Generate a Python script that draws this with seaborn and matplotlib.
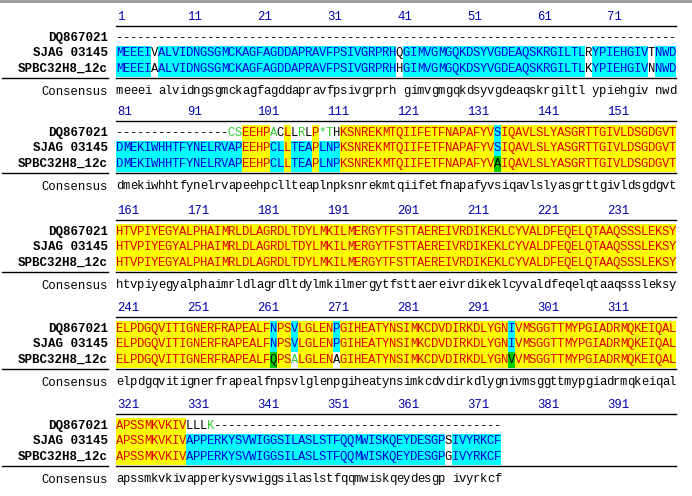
import matplotlib
matplotlib.use("Agg")
import matplotlib.pyplot as plt
from matplotlib.colors import ListedColormap
import numpy as np
import seaborn as sns

names = ["DQ867021", "SJAG 03145", "SPBC32H8_12c"]
starts = [1, 81, 161, 241, 321]

dq = [
    "-" * 80,
    "-" * 16 + "CSEEHPACLLRLP*THKSNREKMTQIIFETFNAPAFYVSIQAVLSLYASGRTTGIVLDSGDGVT",
    "HTVPIYEGYALPHAIMRLDLAGRDLTDYLMKILMERGYTFSTTAEREIVRDIKEKLCYVALDFEQELQTAAQSSSLEKSY",
    "ELPDGQVITIGNERFRAPEALFNPSVLGLENPGIHEATYNSIMKCDVDIRKDLYGNIVMSGGTTMYPGIADRMQKEIQAL",
    "APSSMKVKIVLLLK" + "-" * 41,
]
sjag = [
    "MEEEIVALVIDNGSGMCKAGFAGDDAPRAVFPSIVGRPRHQGIMVGMGQKDSYVGDEAQSKRGILTLRYPIEHGIVTNWD",
    "DMEKIWHHTFYNELRVAPEEHPCLLTEAPLNPKSNREKMTQIIFETFNAPAFYVSIQAVLSLYASGRTTGIVLDSGDGVT",
    "HTVPIYEGYALPHAIMRLDLAGRDLTDYLMKILMERGYTFSTTAEREIVRDIKEKLCYVALDFEQELQTAAQSSSLEKSY",
    "ELPDGQVITIGNERFRAPEALFNPSVLGLENPGIHEATYNSIMKCDVDIRKDLYGNIVMSGGTTMYPGIADRMQKEIQAL",
    "APSSMKVKIVAPPERKYSVWIGGSILASLSTFQQMWISKQEYDESGPSIVYRKCF",
]
spbc = [
    "MEEEIAALVIDNGSGMCKAGFAGDDAPRAVFPSIVGRPRHHGIMVGMGQKDSYVGDEAQSKRGILTLKYPIEHGIVNNWD",
    "DMEKIWHHTFYNELRVAPEEHPCLLTEAPLNPKSNREKMTQIIFETFNAPAFYVAIQAVLSLYASGRTTGIVLDSGDGVT",
    "HTVPIYEGYALPHAIMRLDLAGRDLTDYLMKILMERGYTFSTTAEREIVRDIKEKLCYVALDFEQELQTAAQSSSLEKSY",
    "ELPDGQVITIGNERFRAPEALFQPSALGLENAGIHEATYNSIMKCDVDIRKDLYGNVVMSGGTTMYPGIADRMQKEIQAL",
    "APSSMKVKIVAPPERKYSVWIGGSILASLSTFQQMWISKQEYDESGPGIVYRKCF",
]
# (block, row, column) -> 'g' green box, 'l' green letter
special = {(1, 0, 17): "l", (1, 0, 18): "l", (1, 0, 23): "l", (1, 0, 27): "l",
           (1, 0, 30): "l", (1, 0, 31): "l", (1, 2, 55): "g",
           (3, 2, 23): "g", (3, 2, 26): "l", (3, 2, 57): "g",
           (4, 0, 14): "l"}

bg = ListedColormap(["#FFFFFF", "#00FFFF", "#FFFF00", "#00CC00"])
fg = {0: "black", 1: "#0000DD", 2: "#DD0000", 3: "black"}

W, H = 692, 496
fig = plt.figure(figsize=(W / 100, H / 100), dpi=100)
fig.patch.set_facecolor("white")


def px(x, y):
    return x / W, 1 - y / H


mono = "Liberation Mono"
cw, rh = 7.0, 15.5
x0 = 116
offsets = [0, 95, 194, 291, 388]

fig.add_artist(plt.Line2D([0, 1], [1 - 1 / H] * 2, color="#999999", lw=2))

for b in range(5):
    rows = [dq[b], sjag[b], spbc[b]]
    n = len(rows[0])
    codes = np.zeros((3, n), dtype=int)
    green_txt = np.zeros((3, n), dtype=bool)
    cons = []
    for j in range(n):
        col = [r[j] for r in rows]
        c = " "
        if col[0] == col[1] == col[2] and col[0] != "-":
            codes[:, j] = 2
            c = col[0]
        else:
            for a, bb in [(0, 1), (0, 2), (1, 2)]:
                if col[a] == col[bb] and col[a] != "-":
                    codes[a, j] = codes[bb, j] = 1
                    c = col[a]
        cons.append(c.lower())
        for i in range(3):
            s = special.get((b, i, j + 1))
            if s == "g":
                codes[i, j] = 3
            elif s == "l":
                green_txt[i, j] = True
    oy = offsets[b]
    top = oy + 30
    ax = fig.add_axes([x0 / W, 1 - (top + 3 * rh) / H, n * cw / W, 3 * rh / H])
    letters = np.array([list(r) for r in rows])
    sns.heatmap(codes, ax=ax, cmap=bg, vmin=-0.5, vmax=3.5, cbar=False,
                annot=letters, fmt="", xticklabels=False, yticklabels=False,
                annot_kws={"family": mono, "size": 8.8})
    for t in ax.texts:
        xx, yy = t.get_position()
        j, i = int(xx), int(yy)
        t.set_color("#33CC33" if green_txt[i, j] else fg[codes[i, j]])
    ax.axis("off")

    # labels
    for i, nm in enumerate(names):
        fig.text(*px(108, top + rh * (i + 0.5)), nm, ha="right", va="center",
                 family=mono, weight="bold", size=9)
    fig.text(*px(108, oy + 92), "Consensus", ha="right", va="center", family=mono, size=8.8)
    for j, c in enumerate(cons):
        fig.text(*px(x0 + cw * (j + 0.5), oy + 91), c, ha="center", va="center",
                 family=mono, size=8.8)
    for k in range(8):
        fig.text(*px(x0 + k * 10 * cw + 1, oy + 17), str(starts[b] + 10 * k),
                 ha="left", va="center", family=mono, size=8.8, color="#0000AA")
    fig.add_artist(plt.Line2D([x0 / W, 676 / W], [1 - (oy + 26) / H] * 2, color="black", lw=1))
    fig.add_artist(plt.Line2D([x0 / W, 676 / W], [1 - (oy + 78) / H] * 2, color="black", lw=1))
    fig.add_artist(plt.Line2D([2 / W, 108 / W], [1 - (oy + 78) / H] * 2, color="black", lw=1))

fig.savefig("out.png", dpi=100)
